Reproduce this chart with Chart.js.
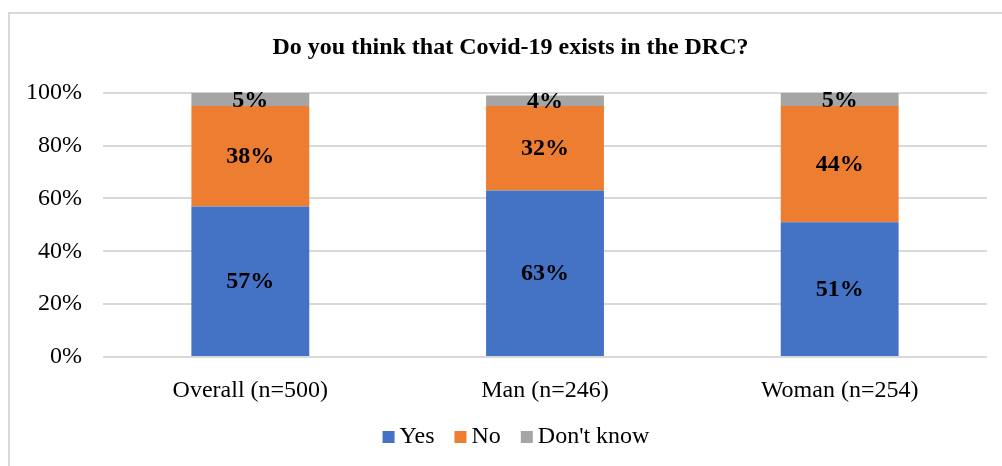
<!DOCTYPE html>
<html>
<head>
<meta charset="utf-8">
<script src="https://cdn.jsdelivr.net/npm/chart.js@4"></script>
<style>
  body { margin: 0; background: #fff; }
  #wrap { position: relative; width: 1002px; height: 466px; }
  #frame { position: absolute; left: 8px; top: 12px; right: -10px; bottom: -10px;
           border-left: 2px solid #d9d9d9; border-top: 2px solid #d9d9d9; }
  #chart { position: absolute; left: 0; top: 0; }
</style>
</head>
<body>
<div id="wrap">
  <div id="frame"></div>
  <canvas id="chart" width="1002" height="466"></canvas>
</div>
<script>
const categories = ['Overall (n=500)', 'Man (n=246)', 'Woman (n=254)'];
const yesValues = [57, 63, 51];
const noValues = [38, 32, 44];
const dontKnowValues = [5, 4, 5];
const seriesNames = ['Yes', 'No', "Don't know"];
const seriesColors = ['#4472C4', '#ED7D31', '#A5A5A5'];
const yTicks = [0, 20, 40, 60, 80, 100];

const serif = "'Liberation Serif', 'Times New Roman', serif";

// value labels in the middle of every stacked segment
const segmentLabels = {
  id: 'segmentLabels',
  afterDatasetsDraw(chart) {
    const ctx = chart.ctx;
    ctx.save();
    ctx.font = 'bold 24px ' + serif;
    ctx.fillStyle = '#000';
    ctx.textAlign = 'center';
    ctx.textBaseline = 'middle';
    chart.data.datasets.forEach((ds, i) => {
      chart.getDatasetMeta(i).data.forEach((bar, j) => {
        const c = bar.getCenterPoint();
        ctx.fillText(ds.data[j] + '%', c.x, c.y + 1);
      });
    });
    ctx.restore();
  }
};

// legend row under the axis: small square, then the series name
const squareLegend = {
  id: 'squareLegend',
  afterDraw(chart) {
    const ctx = chart.ctx;
    ctx.save();
    ctx.font = '24px ' + serif;
    ctx.textBaseline = 'middle';
    const box = 12, gap = 5, spacing = 20;
    const items = chart.data.datasets.map(ds => ({
      text: ds.label, color: ds.backgroundColor, w: ctx.measureText(ds.label).width
    }));
    const total = items.reduce((s, it) => s + box + gap + it.w, 0) + spacing * (items.length - 1);
    let x = chart.width / 2 + 15 - total / 2;
    const y = 437;
    items.forEach(it => {
      ctx.fillStyle = it.color;
      ctx.fillRect(x, y - box / 2, box, box);
      ctx.fillStyle = '#000';
      ctx.fillText(it.text, x + box + gap, y);
      x += box + gap + it.w + spacing;
    });
    ctx.restore();
  }
};

// nudge the title a little right of the canvas centre
const titleShift = {
  id: 'titleShift',
  afterLayout(chart) {
    const t = chart.titleBlock;
    if (t) { t.left += 17; t.right += 17; }
  }
};

new Chart(document.getElementById('chart'), {
  type: 'bar',
  data: {
    labels: categories,
    datasets: [
      { label: seriesNames[0], data: yesValues, backgroundColor: seriesColors[0] },
      { label: seriesNames[1], data: noValues, backgroundColor: seriesColors[1] },
      { label: seriesNames[2], data: dontKnowValues, backgroundColor: seriesColors[2] }
    ]
  },
  options: {
    responsive: false,
    animation: false,
    barPercentage: 0.4,
    categoryPercentage: 1.0,
    layout: { padding: { left: 0, right: 15, top: 0, bottom: 0 } },
    scales: {
      x: {
        stacked: true,
        grid: { display: false },
        border: { display: false },
        ticks: { color: '#000', padding: 11, font: { family: serif, size: 24 } },
        afterFit(scale) { scale.height = 109; }
      },
      y: {
        stacked: true,
        min: 0,
        max: 100,
        afterBuildTicks(scale) { scale.ticks = yTicks.map(v => ({ value: v })); },
        grid: { color: '#d9d9d9', lineWidth: 2, drawTicks: false },
        border: { display: false },
        ticks: {
          color: '#000',
          padding: 21,
          font: { family: serif, size: 24 },
          callback: v => v + '%'
        },
        afterFit(scale) { scale.width = 103; }
      }
    },
    plugins: {
      legend: { display: false },
      tooltip: { enabled: false },
      title: {
        display: true,
        text: 'Do you think that Covid-19 exists in the DRC?',
        color: '#000',
        font: { family: serif, size: 24, weight: 'bold' },
        padding: { top: 33, bottom: 31 }
      }
    }
  },
  plugins: [segmentLabels, squareLegend, titleShift]
});
</script>
</body>
</html>
